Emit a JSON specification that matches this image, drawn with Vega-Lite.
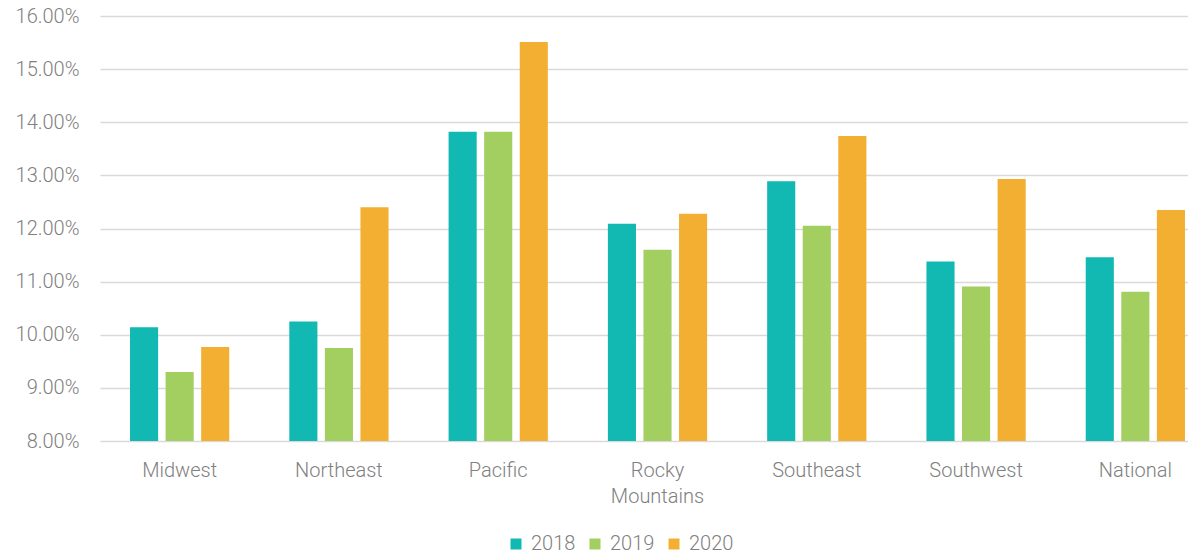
{
  "$schema": "https://vega.github.io/schema/vega-lite/v6.json",
  "autosize": {"type": "none"},
  "padding": {"left": 100, "top": 16, "right": 0, "bottom": 117},
  "width": 1088,
  "height": 425,
  "background": "white",
  "config": {
    "view": {"stroke": null},
    "font": "Roboto",
    "axis": {
      "labelFont": "Roboto",
      "labelFontWeight": 300,
      "labelFontSize": 20,
      "labelColor": "#808080",
      "domain": false,
      "ticks": false,
      "title": null
    },
    "legend": {
      "labelFont": "Roboto",
      "labelFontWeight": 300,
      "labelFontSize": 20,
      "labelColor": "#808080"
    }
  },
  "data": {
    "values": [
      {"region": "Midwest", "year": "2018", "rate": 0.1014},
      {"region": "Midwest", "year": "2019", "rate": 0.0930},
      {"region": "Midwest", "year": "2020", "rate": 0.0977},
      {"region": "Northeast", "year": "2018", "rate": 0.1025},
      {"region": "Northeast", "year": "2019", "rate": 0.0975},
      {"region": "Northeast", "year": "2020", "rate": 0.1240},
      {"region": "Pacific", "year": "2018", "rate": 0.1382},
      {"region": "Pacific", "year": "2019", "rate": 0.1382},
      {"region": "Pacific", "year": "2020", "rate": 0.1551},
      {"region": "Rocky Mountains", "year": "2018", "rate": 0.1209},
      {"region": "Rocky Mountains", "year": "2019", "rate": 0.1160},
      {"region": "Rocky Mountains", "year": "2020", "rate": 0.1228},
      {"region": "Southeast", "year": "2018", "rate": 0.1289},
      {"region": "Southeast", "year": "2019", "rate": 0.1205},
      {"region": "Southeast", "year": "2020", "rate": 0.1374},
      {"region": "Southwest", "year": "2018", "rate": 0.1138},
      {"region": "Southwest", "year": "2019", "rate": 0.1091},
      {"region": "Southwest", "year": "2020", "rate": 0.1293},
      {"region": "National", "year": "2018", "rate": 0.1146},
      {"region": "National", "year": "2019", "rate": 0.1081},
      {"region": "National", "year": "2020", "rate": 0.1235}
    ]
  },
  "mark": {"type": "bar", "clip": false},
  "encoding": {
    "x": {
      "field": "region",
      "type": "nominal",
      "sort": ["Midwest", "Northeast", "Pacific", "Rocky Mountains", "Southeast", "Southwest", "National"],
      "scale": {"range": [0, 1115], "paddingInner": 0.33, "paddingOuter": 0.165},
      "axis": {
        "labelAngle": 0,
        "labelPadding": 19,
        "labelLineHeight": 26,
        "labelBaseline": "top",
        "grid": false,
        "labelExpr": "datum.value == 'Rocky Mountains' ? ['Rocky', 'Mountains'] : datum.value"
      }
    },
    "xOffset": {
      "field": "year",
      "type": "nominal",
      "scale": {"paddingInner": 0.21, "paddingOuter": 0.105}
    },
    "y": {
      "field": "rate",
      "type": "quantitative",
      "scale": {"domain": [0.08, 0.16], "zero": false, "nice": false},
      "axis": {
        "values": [0.08, 0.09, 0.10, 0.11, 0.12, 0.13, 0.14, 0.15, 0.16],
        "format": ".2%",
        "labelPadding": 21,
        "grid": true,
        "gridColor": "#d9d9d9",
        "gridWidth": 1.5
      }
    },
    "y2": {"datum": 0.08},
    "color": {
      "field": "year",
      "type": "nominal",
      "scale": {"domain": ["2018", "2019", "2020"], "range": ["#12b8b2", "#a3ce60", "#f2af31"]},
      "legend": {
        "title": null,
        "orient": "none",
        "direction": "horizontal",
        "legendX": 406,
        "legendY": 518,
        "symbolType": "square",
        "symbolSize": 121,
        "symbolStrokeWidth": 0,
        "labelOffset": 5,
        "columnPadding": 9,
        "padding": 0
      }
    }
  }
}
